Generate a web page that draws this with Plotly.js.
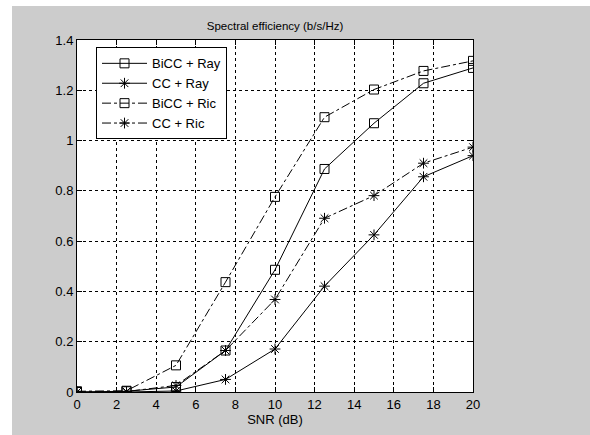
<!DOCTYPE html>
<html>
<head>
<meta charset="utf-8">
<script src="https://cdn.plot.ly/plotly-3.0.1.min.js"></script>
<style>
html,body{margin:0;padding:0;background:#ffffff;width:590px;height:435px;overflow:hidden;}
#chart{position:absolute;left:12px;top:6px;width:578px;height:429px;}
</style>
</head>
<body>
<div id="chart"></div>
<script>
const snr = [0, 2.5, 5, 7.5, 10, 12.5, 15, 17.5, 20];
const biccRay = [0, 0.003, 0.02, 0.165, 0.486, 0.887, 1.069, 1.228, 1.289];
const ccRay   = [0, 0, 0.004, 0.05, 0.171, 0.421, 0.625, 0.856, 0.94];
const biccRic = [0.003, 0.005, 0.106, 0.437, 0.776, 1.093, 1.203, 1.277, 1.317];
const ccRic   = [0, 0.002, 0.026, 0.165, 0.368, 0.691, 0.781, 0.91, 0.974];
const names = ['BiCC + Ray', 'CC + Ray', 'BiCC + Ric', 'CC + Ric'];

const font = 'Liberation Sans, Arial, Helvetica, sans-serif';
function tr(y, name, dash, symbol) {
  return {
    x: snr, y: y, name: name, type: 'scatter', mode: 'lines+markers',
    line: {color: '#000000', width: 1, dash: dash},
    marker: {symbol: symbol, size: 9, color: '#000000', line: {color: '#000000', width: 1}}
  };
}
const data = [
  tr(biccRay, names[0], 'solid', 'square-open'),
  tr(ccRay, names[1], 'solid', 'asterisk-open'),
  tr(biccRic, names[2], 'dashdot', 'square-open'),
  tr(ccRic, names[3], 'dashdot', 'asterisk-open')
];
const axisCommon = {
  showline: true, linecolor: '#000000', linewidth: 1, mirror: 'ticks',
  ticks: 'inside', ticklen: 5, tickcolor: '#000000',
  showgrid: true, gridcolor: '#000000', gridwidth: 1, griddash: '3px,3px',
  zeroline: false, tickfont: {family: font, size: 13, color: '#000000'}
};
const layout = {
  paper_bgcolor: '#cccccc', plot_bgcolor: '#ffffff',
  margin: {l: 65, r: 117, t: 34, b: 43, pad: 0},
  showlegend: true,
  title: {text: 'Spectral efficiency (b/s/Hz)', font: {family: font, size: 11.5, color: '#000000'},
          x: 0.5, xref: 'paper', y: 1, yref: 'paper', yanchor: 'bottom', pad: {b: 10}},
  xaxis: Object.assign({}, axisCommon, {range: [0, 20], dtick: 2, tick0: 0,
          title: {text: 'SNR (dB)', font: {family: font, size: 13, color: '#000000'}, standoff: 4}}),
  yaxis: Object.assign({}, axisCommon, {range: [0, 1.4], dtick: 0.2, tick0: 0}),
  legend: {x: 0.048, y: 0.979, xanchor: 'left', yanchor: 'top', bgcolor: '#ffffff',
           bordercolor: '#000000', borderwidth: 1, itemwidth: 45, tracegroupgap: 0,
           font: {family: font, size: 13, color: '#000000'}}
};
Plotly.newPlot('chart', data, layout, {displayModeBar: false, staticPlot: true});
</script>
</body>
</html>
